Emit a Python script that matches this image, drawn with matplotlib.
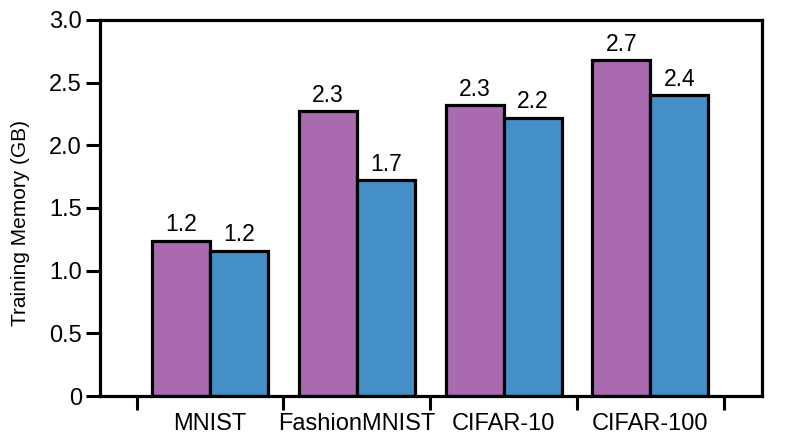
import numpy as np
import matplotlib
matplotlib.use("Agg")
import matplotlib.pyplot as plt

plt.rcParams['font.family'] = ['Liberation Sans', 'DejaVu Sans']

datasets = ['MNIST', 'FashionMNIST', 'CIFAR-10', 'CIFAR-100']
memory_a = [1.24, 2.27, 2.32, 2.68]
memory_b = [1.16, 1.72, 2.22, 2.40]

PURPLE = '#A96AB0'
BLUE = '#4490C6'

fig = plt.figure(figsize=(7.93, 4.41), dpi=100)
ax = fig.add_axes([0.126, 0.102, 0.835, 0.853])

x = np.arange(len(datasets))
w = 0.395
bars_a = ax.bar(x - w / 2, memory_a, w, color=PURPLE, edgecolor='black', linewidth=2.3)
bars_b = ax.bar(x + w / 2, memory_b, w, color=BLUE, edgecolor='black', linewidth=2.3)

for bars, vals in ((bars_a, memory_a), (bars_b, memory_b)):
    ax.bar_label(bars, labels=[f'{v:.1f}' for v in vals], padding=3, fontsize=16.5)

ax.set_xlim(-0.75, 3.76)
ax.set_ylim(0, 3.0)
ax.set_yticks(np.arange(0, 3.01, 0.5))
ax.set_yticklabels(['0', '0.5', '1.0', '1.5', '2.0', '2.5', '3.0'])

# major ticks at group boundaries, labels at group centers
ax.set_xticks(np.arange(-0.5, len(datasets), 1.0))
ax.set_xticklabels([])
ax.set_xticks(x, minor=True)
ax.set_xticklabels(datasets, minor=True)
ax.tick_params(axis='x', which='major', direction='out', length=10, width=2.2)
ax.tick_params(axis='x', which='minor', length=0, pad=12, labelsize=17)
ax.tick_params(axis='y', direction='out', length=10, width=2.2, labelsize=17, pad=3)

for s in ax.spines.values():
    s.set_linewidth(2.3)

ax.set_ylabel('Training Memory (GB)', fontsize=15)
ax.yaxis.set_label_coords(-0.105, 0.46)

fig.savefig('out.png', dpi=100)
